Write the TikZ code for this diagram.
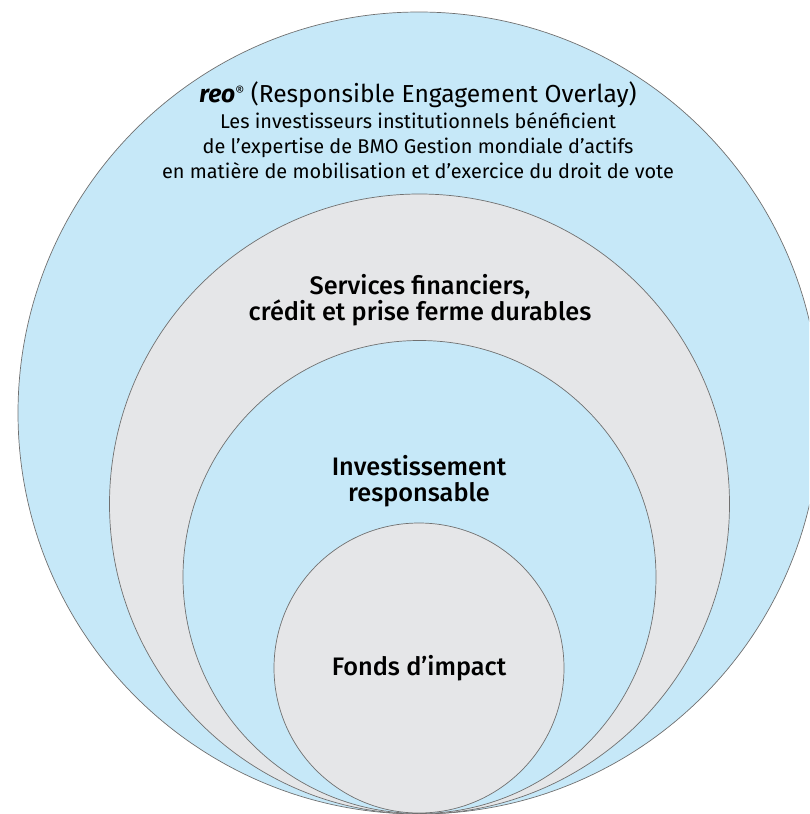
\documentclass[tikz,border=0pt]{standalone}
\usepackage{fontspec}
\setmainfont{Fira Sans}
\newfontfamily\medfont{Fira Sans Medium}
\definecolor{ringblue}{HTML}{C6E8F8}
\definecolor{ringgray}{HTML}{E5E6E8}
\definecolor{ringline}{HTML}{707070}
\begin{document}
\begin{tikzpicture}[x=1pt,y=-1pt,
  ring/.style={draw=ringline,line width=0.7pt},
  small/.style={font=\fontsize{19.9}{25}\selectfont,align=center,inner sep=0pt},
  big/.style={font=\fontsize{25.3}{26}\selectfont\medfont,align=center,inner sep=0pt}]
\useasboundingbox (0,0) rectangle (809,814);
\begin{scope}
\clip (0,0) rectangle (809,814);
\filldraw[ring,fill=ringblue] (419,413) circle (401);
\end{scope}
\filldraw[ring,fill=ringgray] (419.5,504) circle (310);
\filldraw[ring,fill=ringblue] (419.5,577) circle (236.5);
\filldraw[ring,fill=ringgray] (419,668) circle (145);
\node[small,font=\fontsize{24.6}{26}\selectfont] (reo) at (418,95) {\textbf{\textit{reo}}\raisebox{0.45ex}{\fontsize{14}{14}\selectfont ®} (Responsible Engagement Overlay)};
\node[small] (desc) at (418,146) {Les investisseurs institutionnels bénéficient\\de l’expertise de BMO Gestion mondiale d’actifs\\en matière de mobilisation et d’exercice du droit de vote};
\node[big] (sfc) at (420,300) {Services financiers,\\crédit et prise ferme durables};
\node[big] (ir) at (419,481) {Investissement\\responsable};
\node[big] (fi) at (419,668) {Fonds d’impact};
\end{tikzpicture}
\end{document}
